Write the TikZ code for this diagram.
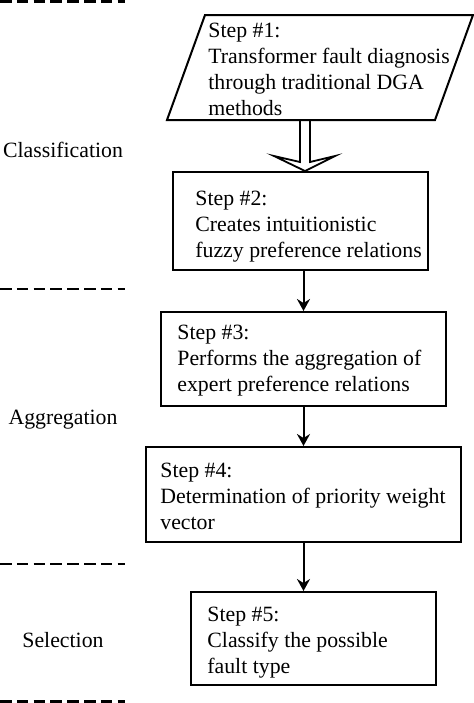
\documentclass[tikz,border=0pt]{standalone}
\usepackage{fontspec}
\setmainfont{Liberation Serif}
\usetikzlibrary{arrows.meta,calc}

\tikzset{
    stepbox/.style={draw, line width=1pt, rectangle, inner sep=0pt},
    stepslant/.style={stepbox, xslant=0.362, transform shape},
    steptext/.style={anchor=west, align=left, inner sep=0pt},
    phase/.style={inner sep=0pt},
    sepline/.style={line width=1.4pt, dash pattern=on 5.8pt off 2.6pt},
    flow/.style={line width=1pt, -{Stealth[length=6pt, width=6.5pt, inset=2pt]}},
    hollow/.style={line width=0.9pt, line join=miter}
}

\begin{document}
\begin{tikzpicture}[x=0.5pt, y=-0.5pt, font=\fontsize{10.9pt}{13pt}\selectfont]
    \useasboundingbox (0,0) rectangle (474,703);
    % phase separators
    \draw[sepline] (0,1.5) -- (125,1.5);
    \draw[sepline] (0,289) -- (125,289);
    \draw[sepline] (0,564) -- (125,564);
    \draw[sepline] (0,701.5) -- (125,701.5);
    % phase names
    \node[phase] (cls) at (63,150) {Classification};
    \node[phase] (agg) at (63,420) {Aggregation};
    \node[phase] (sel) at (63,640) {Selection};
    % steps
    \node[stepslant, minimum width=134pt, minimum height=52.5pt] (s1) at (320,67.5) {};
    \node[steptext] (t1) at (208,69.5) {Step \#1:\\Transformer fault diagnosis\\through traditional DGA\\methods};
    \node[stepbox, minimum width=127.5pt, minimum height=49pt] (s2) at (300.5,221) {};
    \node[steptext] (t2) at (195,227) {Step \#2:\\Creates intuitionistic\\fuzzy preference relations};
    \node[stepbox, minimum width=142.5pt, minimum height=47pt] (s3) at (303.5,359) {};
    \node[steptext] (t3) at (177,361) {Step \#3:\\Performs the aggregation of\\expert preference relations};
    \node[stepbox, minimum width=157.5pt, minimum height=47.5pt] (s4) at (303.5,494.5) {};
    \node[steptext] (t4) at (160,496) {Step \#4:\\Determination of priority weight\\vector};
    \node[stepbox, minimum width=122.5pt, minimum height=46.5pt] (s5) at (313.5,638.5) {};
    \node[steptext] (t5) at (207,643) {Step \#5:\\Classify the possible\\fault type};
    % connectors
    \coordinate (h1) at ($(s2.north |- s1.south)+(4.5,0)$);
    \coordinate (h2) at ($(s2.north)+(4.5,0)$);
    \draw[hollow] ($(h1)+(-5,0)$) -- ($(h2)+(-5,-9)$) -- ($(h2)+(-31,-15)$)
        -- (h2) -- ($(h2)+(30,-15)$) -- ($(h2)+(5,-9)$) -- ($(h1)+(5,0)$);
    \draw[flow] (s3.north |- s2.south) -- (s3.north);
    \draw[flow] (s3.south) -- (s4.north);
    \draw[flow] (s4.south) -- (s4.south |- s5.north);
\end{tikzpicture}
\end{document}
